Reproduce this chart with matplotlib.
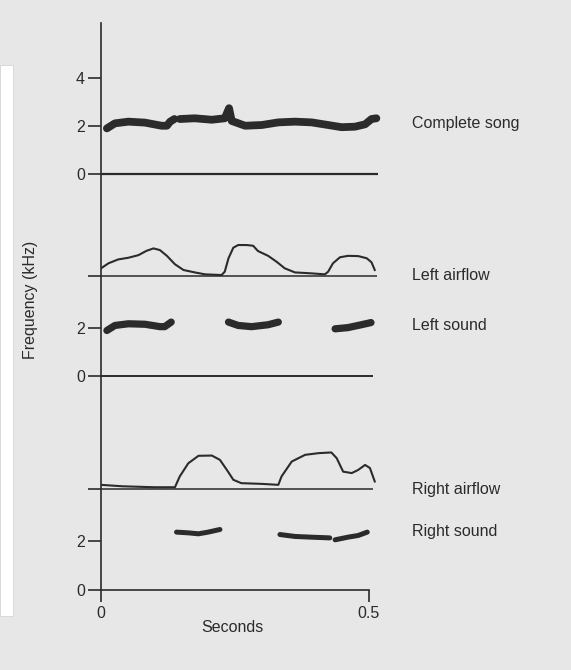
import numpy as np
import matplotlib.pyplot as plt
from matplotlib.patches import Rectangle

plt.rcParams['font.family'] = ['Liberation Sans', 'DejaVu Sans']

# Data (time in s, sound traces in kHz, airflow in arbitrary units)

# Complete song: two segments
cs_t1 = [0.011, 0.026, 0.051, 0.082, 0.113, 0.123, 0.129, 0.137]
cs_f1 = [1.90, 2.11, 2.18, 2.14, 2.01, 2.01, 2.18, 2.29]
cs_t2 = [0.147, 0.175, 0.207, 0.231, 0.239, 0.244, 0.269, 0.300, 0.331, 0.362,
         0.393, 0.424, 0.449, 0.474, 0.493, 0.505, 0.514]
cs_f2 = [2.29, 2.32, 2.26, 2.32, 2.74, 2.21, 2.01, 2.04, 2.15, 2.18,
         2.15, 2.04, 1.95, 1.97, 2.07, 2.29, 2.32]

# Left airflow
la_t = [0.000, 0.014, 0.032, 0.051, 0.070, 0.085, 0.098, 0.110, 0.123, 0.138,
        0.154, 0.175, 0.194, 0.225, 0.231, 0.238, 0.247, 0.256, 0.272, 0.284,
        0.293, 0.312, 0.328, 0.343, 0.362, 0.393, 0.418, 0.424, 0.433, 0.446,
        0.461, 0.480, 0.496, 0.505, 0.511]
la_v = [0.31, 0.52, 0.68, 0.75, 0.86, 1.04, 1.14, 1.07, 0.83, 0.48,
        0.24, 0.14, 0.06, 0.03, 0.17, 0.73, 1.17, 1.28, 1.28, 1.25,
        1.03, 0.83, 0.58, 0.31, 0.14, 0.10, 0.06, 0.17, 0.52, 0.77,
        0.83, 0.82, 0.73, 0.56, 0.24]

# Left sound: three syllables
ls_t = [[0.011, 0.026, 0.051, 0.082, 0.110, 0.119, 0.131],
        [0.238, 0.256, 0.281, 0.312, 0.331],
        [0.437, 0.461, 0.486, 0.504]]
ls_f = [[1.89, 2.10, 2.17, 2.15, 2.05, 2.05, 2.24],
        [2.24, 2.10, 2.05, 2.13, 2.24],
        [1.96, 2.01, 2.13, 2.22]]

# Right airflow
ra_t = [0.000, 0.040, 0.100, 0.138, 0.147, 0.163, 0.182, 0.207, 0.222, 0.235,
        0.247, 0.262, 0.300, 0.331, 0.337, 0.356, 0.381, 0.406, 0.430, 0.440,
        0.452, 0.468, 0.480, 0.493, 0.502, 0.511]
ra_v = [0.18, 0.12, 0.08, 0.08, 0.53, 1.08, 1.39, 1.40, 1.22, 0.80,
        0.39, 0.25, 0.22, 0.18, 0.53, 1.15, 1.43, 1.50, 1.53, 1.29,
        0.73, 0.67, 0.80, 1.01, 0.88, 0.32]

# Right sound: three syllables
rs_t = [[0.141, 0.163, 0.182, 0.200, 0.222],
        [0.334, 0.362, 0.393, 0.427],
        [0.437, 0.461, 0.480, 0.497]]
rs_f = [[2.39, 2.36, 2.32, 2.39, 2.50],
        [2.29, 2.21, 2.18, 2.15],
        [2.07, 2.18, 2.25, 2.39]]

# vertical offset of each trace on the shared axis
off_rs, off_ra, off_ls, off_la, off_cs = 0.0, 4.18, 8.9, 13.07, 17.31

ink = '#2b2b2b'

fig = plt.figure(figsize=(5.71, 6.70), dpi=100)
fig.patch.set_facecolor('#e7e7e7')
fig.patches.append(Rectangle((0, 54 / 670), 13 / 571, 551 / 670, transform=fig.transFigure,
                             facecolor='white', edgecolor='#d4d4d4', lw=0.6))

ax = fig.add_axes([101 / 571, 80.5 / 670, 300 / 571, 566.5 / 670])
ax.set_facecolor('none')
ax.set_xlim(0, 0.56)
ax.set_ylim(0, 23.6)

# baselines / zero lines
ax.hlines(off_cs, 0, 0.517, color=ink, lw=1.6)
ax.hlines(off_la, 0, 0.515, color=ink, lw=1.1)
ax.hlines(off_ls, 0, 0.507, color=ink, lw=1.4)
ax.hlines(off_ra, 0, 0.507, color=ink, lw=1.1)

# complete song
ax.plot(cs_t1, np.array(cs_f1) + off_cs, color=ink, lw=5.6, solid_capstyle='round')
ax.plot(cs_t2, np.array(cs_f2) + off_cs, color=ink, lw=5.6, solid_capstyle='round')

# airflows
ax.plot(la_t, np.array(la_v) + off_la, color=ink, lw=1.5)
ax.plot(ra_t, np.array(ra_v) + off_ra, color=ink, lw=1.5)

# sounds
for t, f in zip(ls_t, ls_f):
    ax.plot(t, np.array(f) + off_ls, color=ink, lw=5.2, solid_capstyle='round')
for t, f in zip(rs_t, rs_f):
    ax.plot(t, np.array(f) + off_rs, color=ink, lw=3.6, solid_capstyle='round')

# axes styling
for s in ['top', 'right']:
    ax.spines[s].set_visible(False)
for s in ['left', 'bottom']:
    ax.spines[s].set_color(ink)
    ax.spines[s].set_linewidth(1.2)
ax.spines['bottom'].set_bounds(0, 0.5)

ax.set_yticks([off_rs, off_rs + 2, off_ra, off_ls, off_ls + 2, off_la,
               off_cs, off_cs + 2, off_cs + 4])
ax.set_yticklabels(['0', '2', '', '0', '2', '', '0', '2', '4'])
ax.set_xticks([0, 0.5])
ax.set_xticklabels(['0', '0.5'])
ax.tick_params(axis='y', length=9.5, width=1.2, pad=2, labelsize=11.5,
               color=ink, labelcolor=ink)
ax.tick_params(axis='x', length=8.6, width=1.2, pad=3, labelsize=11.5,
               color=ink, labelcolor=ink)

# trace names
names = ['Complete song', 'Left airflow', 'Left sound', 'Right airflow', 'Right sound']
name_y = [off_cs + 2.1, off_la, off_ls + 2.1, off_ra, off_rs + 2.4]
for n, y in zip(names, name_y):
    ax.text(0.58, y, n, fontsize=11.5, color=ink, ha='left', va='center')

fig.text(232 / 571, 1 - 628 / 670, 'Seconds', fontsize=11.5, color=ink,
         ha='center', va='center')
fig.text(30 / 571, 1 - 300 / 670, 'Frequency (kHz)', fontsize=11.5, color=ink,
         ha='center', va='center', rotation=90)

fig.savefig('out.png', dpi=100, facecolor=fig.get_facecolor())
